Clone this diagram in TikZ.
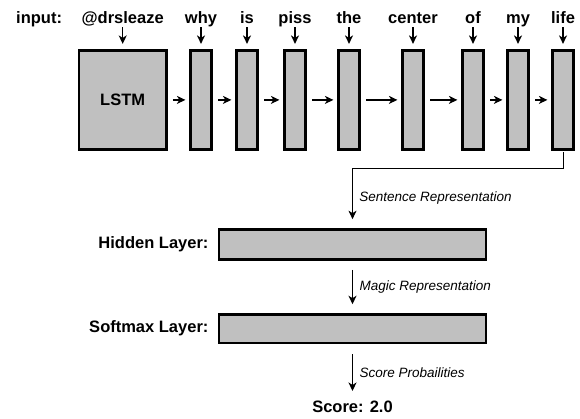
\documentclass[tikz,border=0pt]{standalone}
\usepackage{fontspec}
\setmainfont{Liberation Sans}
\usetikzlibrary{arrows.meta, positioning}

\definecolor{cellgray}{RGB}{192,192,192}

\begin{document}
\begin{tikzpicture}[
    x=1pt, y=-1pt,
    >={Stealth[length=8.5pt, width=8pt, inset=2.5pt]},
    cell/.style={rectangle, draw=black, fill=cellgray, line width=2.7pt, minimum width=21.5pt, minimum height=99.3pt, inner sep=0pt},
    layer/.style={rectangle, draw=black, fill=cellgray, line width=2.7pt, minimum width=267.2pt, minimum height=30pt, inner sep=0pt},
    bold/.style={inner sep=0pt, font=\fontsize{16.5}{19}\selectfont\bfseries},
    word/.style={bold, anchor=base, text height=12pt, text depth=4pt},
    note/.style={font=\fontsize{13.5}{15}\selectfont\itshape},
    flow/.style={->, line width=1.4pt, shorten <=5pt, shorten >=3.5pt}
]
    \useasboundingbox (0,0) rectangle (580,418);

    % Unrolled recurrent cells
    \node[cell, minimum width=87.6pt, font=\fontsize{16.5}{19}\selectfont\bfseries] (lstm) at (122.7,99.9) {LSTM};
    \node[cell] (c1) at (201,99.9) {};
    \node[cell] (c2) at (247,99.9) {};
    \node[cell] (c3) at (295,99.9) {};
    \node[cell] (c4) at (349,99.9) {};
    \node[cell] (c5) at (413,99.9) {};
    \node[cell] (c6) at (473,99.9) {};
    \node[cell] (c7) at (518,99.9) {};
    \node[cell] (c8) at (563,99.9) {};

    % Input tokens
    \node[word, anchor=base west] (inlabel) at (16,23) {input:};
    \node[word] (w0) at (lstm |- inlabel.base) {@drsleaze};
    \node[word] (w1) at (c1 |- inlabel.base) {why};
    \node[word] (w2) at (c2 |- inlabel.base) {is};
    \node[word] (w3) at (c3 |- inlabel.base) {piss};
    \node[word] (w4) at (c4 |- inlabel.base) {the};
    \node[word] (w5) at (c5 |- inlabel.base) {center};
    \node[word] (w6) at (c6 |- inlabel.base) {of};
    \node[word] (w7) at (c7 |- inlabel.base) {my};
    \node[word] (w8) at (c8 |- inlabel.base) {life};

    % Token arrows
    \draw[flow, shorten <=0pt, shorten >=5pt] (w0) -- (lstm);
    \draw[flow, shorten <=0pt, shorten >=5pt] (w1) -- (c1);
    \draw[flow, shorten <=0pt, shorten >=5pt] (w2) -- (c2);
    \draw[flow, shorten <=0pt, shorten >=5pt] (w3) -- (c3);
    \draw[flow, shorten <=0pt, shorten >=5pt] (w4) -- (c4);
    \draw[flow, shorten <=0pt, shorten >=5pt] (w5) -- (c5);
    \draw[flow, shorten <=0pt, shorten >=5pt] (w6) -- (c6);
    \draw[flow, shorten <=0pt, shorten >=5pt] (w7) -- (c7);
    \draw[flow, shorten <=0pt, shorten >=5pt] (w8) -- (c8);

    % Recurrent arrows
    \draw[flow] (lstm) -- (c1);
    \draw[flow] (c1) -- (c2);
    \draw[flow] (c2) -- (c3);
    \draw[flow] (c3) -- (c4);
    \draw[flow] (c4) -- (c5);
    \draw[flow] (c5) -- (c6);
    \draw[flow] (c6) -- (c7);
    \draw[flow] (c7) -- (c8);

    % Classifier layers
    \node[layer] (hidden) at (352.5,244.5) {};
    \node[layer, minimum height=28.3pt] (softmax) at (352.5,328.7) {};
    \node[bold, left=8.9pt of hidden] (hiddenlbl) {Hidden Layer:};
    \node[bold, left=8.9pt of softmax] (softmaxlbl) {Softmax Layer:};
    \node[bold, anchor=base] (score) at (352.5,412.7) {Score: 2.0};

    % Output path
    \draw[flow, line width=1pt, shorten <=1.5pt, shorten >=9pt] (c8.south) -- ++(0,17.5) -| (hidden)
        node[note, pos=0.75, right=3pt] {Sentence Representation};
    \draw[flow, shorten <=9pt, shorten >=9pt] (hidden) -- (softmax)
        node[note, midway, right=3pt] {Magic Representation};
    \draw[flow, shorten <=10pt, shorten >=10pt] (softmax) -- (score)
        node[note, midway, right=3pt] {Score Probailities};
\end{tikzpicture}
\end{document}
